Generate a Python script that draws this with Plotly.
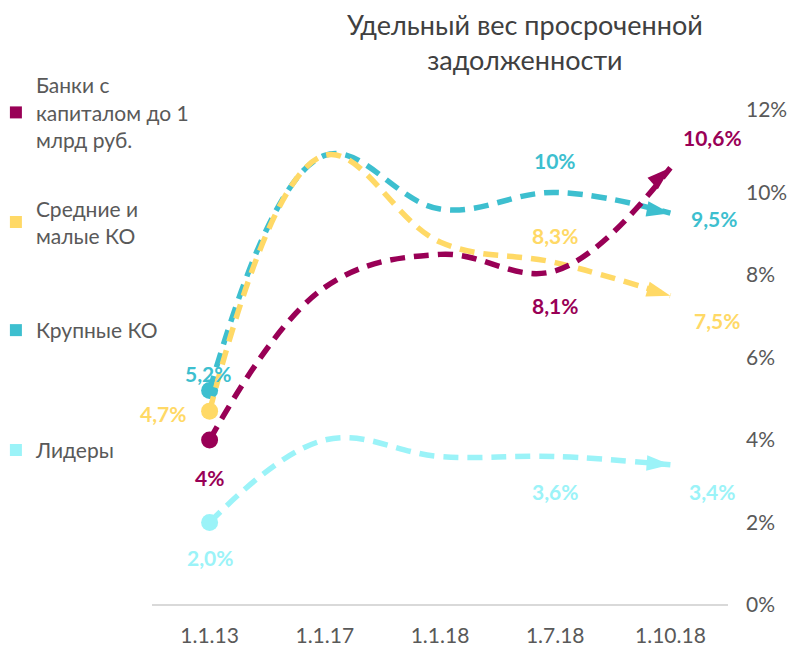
import plotly.graph_objects as go

# ---- data ----
categories = ["1.1.13", "1.1.17", "1.1.18", "1.7.18", "1.10.18"]
series_names = [
    "Банки с<br>капиталом до 1<br>млрд руб.",
    "Средние и<br>малые КО",
    "Крупные КО",
    "Лидеры",
]
small_banks = [4.0, 7.7, 8.5, 8.1, 10.6]
mid_small = [4.7, 10.9, 8.8, 8.3, 7.5]
large = [5.2, 10.9, 9.6, 10.0, 9.5]
leaders = [2.0, 4.0, 3.6, 3.6, 3.4]

small_banks_labels = ["4%", None, None, "8,1%", "10,6%"]
mid_small_labels = ["4,7%", None, None, "8,3%", "7,5%"]
large_labels = ["5,2%", None, None, "10%", "9,5%"]
leaders_labels = ["2,0%", None, None, "3,6%", "3,4%"]

y_ticks = [0, 2, 4, 6, 8, 10, 12]
y_tick_text = ["0%", "2%", "4%", "6%", "8%", "10%", "12%"]

title_text = "Удельный вес просроченной<br>задолженности"

# ---- style ----
colors = ["#990056", "#FFD966", "#3DBFCF", "#9BF3F8"]
series_values = [small_banks, mid_small, large, leaders]
series_labels = [small_banks_labels, mid_small_labels, large_labels, leaders_labels]
# label offsets (px) per point: (xshift, yshift)
label_offsets = [
    [(0, -37), None, None, (0, -35), (42, 30)],
    [(-47, -2), None, None, (0, 27), (47, -25)],
    [(-2, 17), None, None, (0, 32), (44, -5)],
    [(0, -35), None, None, (0, -35), (42, -27)],
]

fig = go.Figure()

# draw order: bottom -> top
draw_order = [3, 2, 1, 0]
for i in draw_order:
    vals = series_values[i]
    fig.add_trace(go.Scatter(
        x=categories, y=vals, mode="lines",
        line=dict(color=colors[i], width=5.5, dash="15px,9px", shape="spline", smoothing=1.1),
        showlegend=False, hoverinfo="skip", cliponaxis=False,
    ))
    # start point marker
    fig.add_trace(go.Scatter(
        x=categories[:1], y=vals[:1], mode="markers",
        marker=dict(symbol="circle", size=17, color=colors[i], line=dict(width=0)),
        showlegend=False, hoverinfo="skip", cliponaxis=False,
    ))
    # end arrow head (oriented from the previous point)
    fig.add_trace(go.Scatter(
        x=categories[-2:], y=vals[-2:], mode="markers",
        marker=dict(symbol=["circle", "arrow"], size=[0, 25], color=colors[i],
                    angleref="previous", line=dict(width=0), opacity=1),
        showlegend=False, hoverinfo="skip", cliponaxis=False,
    ))

# legend entries (one legend per entry to mimic spacing)
legend_ids = ["legend", "legend2", "legend3", "legend4"]
for i in range(4):
    fig.add_trace(go.Scatter(
        x=[None], y=[None], mode="markers", name=series_names[i],
        marker=dict(symbol="square", size=12, color=colors[i]),
        legend=legend_ids[i], showlegend=True, hoverinfo="skip",
    ))

# data labels
annotations = []
for i in range(4):
    for j, lab in enumerate(series_labels[i]):
        if lab is None:
            continue
        xs, ys = label_offsets[i][j]
        annotations.append(dict(
            x=categories[j], y=series_values[i][j], xref="x", yref="y",
            text=f"<b>{lab}</b>", showarrow=False, xshift=xs, yshift=ys,
            font=dict(family="Lato", size=21, color=colors[i]),
        ))

annotations.append(dict(
    x=0.6476, y=1.21, xref="paper", yref="paper", xanchor="center", yanchor="top",
    text=title_text, showarrow=False,
    font=dict(family="Lato", size=27, color="#404040"),
))

legend_common = dict(
    bgcolor="rgba(0,0,0,0)", borderwidth=0, xanchor="left", yanchor="top",
    font=dict(family="Lato", size=21, color="#595959"), itemwidth=30,
)
leg_y = [1.091, 0.842, 0.596, 0.354]
legend_layouts = {}
for k, lid in enumerate(legend_ids):
    legend_layouts[lid] = dict(legend_common, x=-0.271, y=leg_y[k])

# page body adds an 8px offset, so the figure is 8px smaller than the window
fig.update_layout(
    width=787, height=641,
    margin=dict(l=144, r=67, t=102, b=44, autoexpand=False),
    paper_bgcolor="white", plot_bgcolor="white",
    xaxis=dict(type="category", categoryorder="array", categoryarray=categories,
               range=[-0.5, 4.5], showgrid=False, zeroline=False,
               showline=False, ticks="", ticklabelstandoff=16,
               tickfont=dict(family="Lato", size=21, color="#595959")),
    yaxis=dict(range=[0, 12], side="right", tickvals=y_ticks, ticktext=y_tick_text,
               showgrid=False, zeroline=True, zerolinecolor="#D9D9D9", zerolinewidth=1.5,
               showline=False, ticks="", ticklabelstandoff=17,
               tickfont=dict(family="Lato", size=21, color="#595959")),
    annotations=annotations,
    **legend_layouts,
)

fig.write_html("out.html")
